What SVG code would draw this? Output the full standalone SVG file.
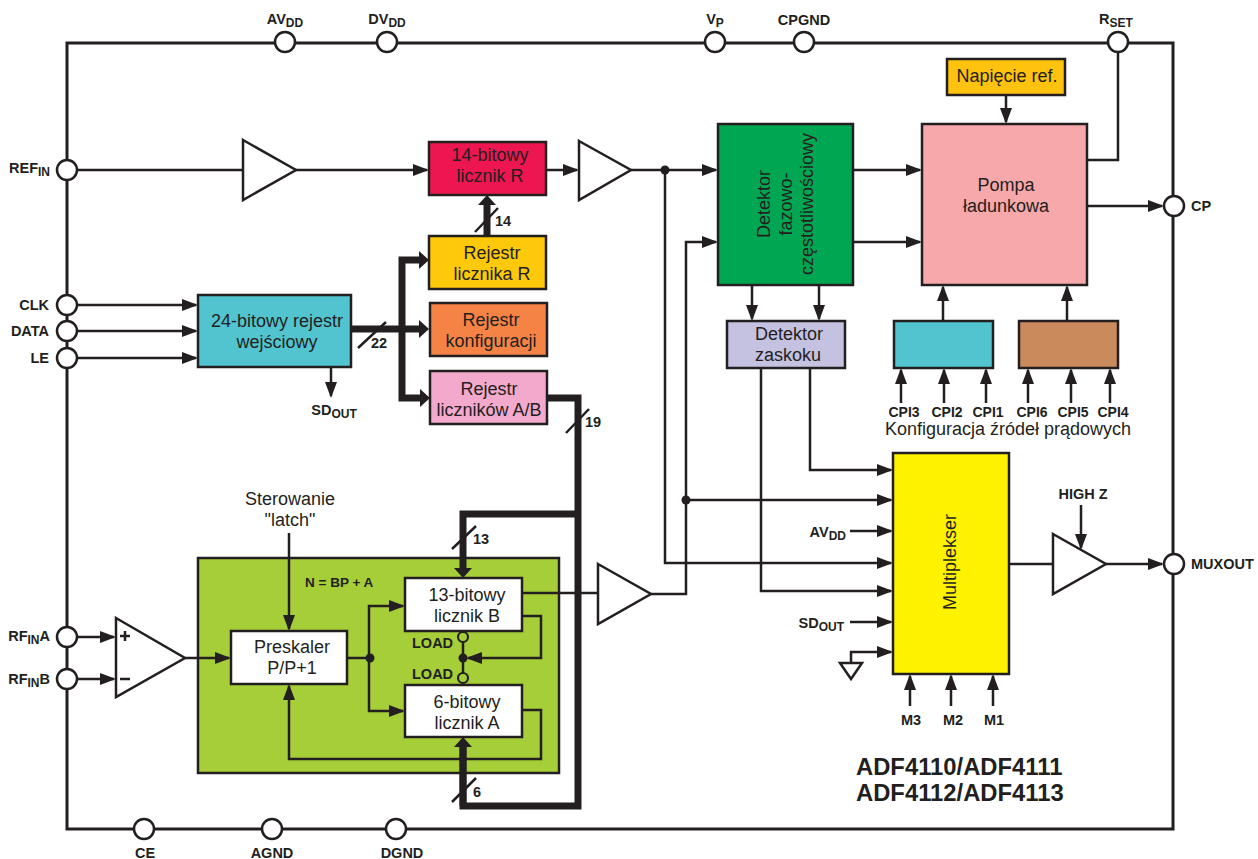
<svg xmlns="http://www.w3.org/2000/svg" width="1258" height="859" viewBox="0 0 1258 859">
<style>
text{font-family:"Liberation Sans",Arial,sans-serif;fill:#231f20}
.t{font-size:18px;text-anchor:middle}
.b{font-size:14.5px;font-weight:700}
.m{text-anchor:middle}
.e{text-anchor:end}
.s{font-size:12px}
.c{font-size:14px}
.box{stroke:#231f20;stroke-width:2.5}
.w{fill:none;stroke:#231f20;stroke-width:2.5}
.a{marker-end:url(#ah)}
.k{fill:none;stroke:#231f20;stroke-width:7}
.ka{marker-end:url(#kh)}
.pin{fill:#fff;stroke:#231f20;stroke-width:2.5}
.tri{fill:#fff;stroke:#231f20;stroke-width:2.5}
.d{fill:#231f20}
</style>
<defs>
<marker id="ah" markerUnits="userSpaceOnUse" markerWidth="18" markerHeight="14" refX="14" refY="6" orient="auto"><path d="M0 0L16 6L0 12z" fill="#231f20"/></marker>
<marker id="kh" markerUnits="userSpaceOnUse" markerWidth="12" markerHeight="20" refX="5" refY="9" orient="auto"><path d="M0 0L10 9L0 18z" fill="#231f20"/></marker>
</defs>
<rect width="1258" height="859" fill="#fff"/>
<g id="panel-n"><rect class="box" x="198" y="558" width="361" height="215" fill="#a6ce39"/></g>
<g id="connectors">
<rect x="67" y="43" width="1106" height="786" class="w" style="stroke-width:3"/>
<path class="w a" d="M77 170H427"/>
<path class="w a" d="M546 170H577"/>
<path class="w a" d="M631 170H716"/>
<path class="w a" d="M665 170V563H891"/>
<path class="w a" d="M651 594H686V242H716"/>
<path class="w a" d="M686 500H891"/>
<path class="w a" d="M853 170H920"/>
<path class="w a" d="M853 242H920"/>
<path class="w a" d="M752 285V319"/>
<path class="w a" d="M819 285V319"/>
<path class="w a" d="M1006 95V122"/>
<path class="w" d="M1087 160H1118V52"/>
<path class="w a" d="M1087 206H1162"/>
<path class="w a" d="M943 321V287"/>
<path class="w a" d="M1067 321V287"/>
<path class="w a" d="M901 403V370"/>
<path class="w a" d="M944 403V370"/>
<path class="w a" d="M986 403V370"/>
<path class="w a" d="M1028 403V370"/>
<path class="w a" d="M1071 403V370"/>
<path class="w a" d="M1110 403V370"/>
<path class="w a" d="M761 368V591H891"/>
<path class="w a" d="M810 368V470H891"/>
<path class="w a" d="M850 531H891"/>
<path class="w a" d="M850 622H891"/>
<path class="w a" d="M851 663V652H891"/>
<path class="w a" d="M910 706V676"/>
<path class="w a" d="M951 706V676"/>
<path class="w a" d="M993 706V676"/>
<path class="w" d="M1009 564H1053"/>
<path class="w a" d="M1106 564H1162"/>
<path class="w a" d="M1081 505V548"/>
<path class="w a" d="M77 305H196"/>
<path class="w a" d="M77 331H196"/>
<path class="w a" d="M77 358H196"/>
<path class="w a" d="M331 367V396"/>
<path class="w a" d="M77 637H114"/>
<path class="w a" d="M77 679H114"/>
<path class="w a" d="M185 658H229"/>
<path class="w a" d="M289 533V629"/>
<path class="w a" d="M347 658H369V606H403"/>
<path class="w a" d="M369 658V711H403"/>
<path class="w" d="M522 593H598"/>
<path class="w a" d="M522 616H541V658H468"/>
<path class="w a" d="M522 710H541V759H289V686"/>
<path class="w" d="M463 642V673"/>
<path class="k ka" d="M351 329H424"/>
<path class="k ka" d="M402 329V260H424"/>
<path class="k ka" d="M402 329V398H425"/>
<path class="k ka" d="M487 236V200"/>
<path class="k" d="M547 398H578V806H463V742"/>
<path class="k ka" d="M463 806V742"/>
<path class="k ka" d="M578 514H463V573"/>
<path class="w" d="M475 232L498 208M358 348L386 322M566 433L589 409M452 549L476 526M452 802L476 778"/>
<circle class="d" cx="665" cy="170" r="4.5"/>
<circle class="d" cx="686" cy="500" r="4.5"/>
<circle class="d" cx="370" cy="658" r="4.5"/>
<circle class="d" cx="463" cy="658" r="4.5"/>
<circle cx="463" cy="637" r="5" fill="#a6ce39" stroke="#231f20" stroke-width="2.2"/>
<circle cx="463" cy="678" r="5" fill="#a6ce39" stroke="#231f20" stroke-width="2.2"/>
<path d="M840 663H862L851 679z" fill="#fff" stroke="#231f20" stroke-width="2.5"/>
</g>
<g id="buf-ref"><path class="tri" d="M243 140L296 170L243 200z"/></g>
<g id="buf-r"><path class="tri" d="M579 141L631 170L579 200z"/></g>
<g id="buf-b"><path class="tri" d="M598 564L651 594L598 624z"/></g>
<g id="buf-mux"><path class="tri" d="M1053 534L1106 564L1053 594z"/></g>
<g id="comp-rf"><path class="tri" d="M116 618L185 658L116 697z"/>
<path d="M120 636H130M125 631V641M120 679H130" stroke="#231f20" stroke-width="2.5" fill="none"/></g>
<g id="r-counter"><rect class="box" x="429" y="142" width="117" height="53" fill="#ed1651"/><text class="t" x="490" y="161">14-bitowy</text><text class="t" x="490" y="182">licznik R</text></g>
<g id="reg-r"><rect class="box" x="429" y="236" width="117" height="53" fill="#ffc90b"/><text class="t" x="492" y="259">Rejestr</text><text class="t" x="492" y="280">licznika R</text></g>
<g id="reg-conf"><rect class="box" x="430" y="303" width="117" height="53" fill="#f58345"/><text class="t" x="491" y="326">Rejestr</text><text class="t" x="491" y="347">konfiguracji</text></g>
<g id="reg-ab"><rect class="box" x="430" y="371" width="117" height="53" fill="#f3a9cc"/><text class="t" x="489" y="395">Rejestr</text><text class="t" x="489" y="416">liczników A/B</text></g>
<g id="input-reg"><rect class="box" x="198" y="295" width="153" height="72" fill="#52c4cf"/><text class="t" x="277" y="327">24-bitowy rejestr</text><text class="t" x="277" y="348">wejściowy</text></g>
<g id="pfd"><rect class="box" x="718" y="124" width="135" height="161" fill="#00a651"/>
<text class="t" transform="translate(770 204) rotate(-90)">Detektor</text><text class="t" transform="translate(792 204) rotate(-90)">fazowo-</text><text class="t" transform="translate(813 204) rotate(-90)">częstotliwościowy</text></g>
<g id="pump"><rect class="box" x="922" y="124" width="165" height="161" fill="#f6a8ab"/><text class="t" x="1006" y="191">Pompa</text><text class="t" x="1006" y="212">ładunkowa</text></g>
<g id="vref"><rect class="box" x="947" y="59" width="118" height="36" fill="#ffc20e"/><text class="t" x="1007" y="82">Napięcie ref.</text></g>
<g id="lock"><rect class="box" x="727" y="321" width="118" height="47" fill="#c5c1e0"/><text class="t" x="789" y="340">Detektor</text><text class="t" x="788" y="361">zaskoku</text></g>
<g id="cpi-a"><rect class="box" x="894" y="321" width="99" height="47" fill="#52c4cf"/></g>
<g id="cpi-b"><rect class="box" x="1019" y="321" width="99" height="47" fill="#cb8a5b"/></g>
<g id="mux"><rect class="box" x="893" y="453" width="116" height="221" fill="#fff200"/><text class="t" transform="translate(956 562) rotate(-90)">Multiplekser</text></g>
<g id="prescaler"><rect class="box" x="231" y="631" width="116" height="53" fill="#fff"/><text class="t" x="292" y="653">Preskaler</text><text class="t" x="292" y="674">P/P+1</text></g>
<g id="cnt-b"><rect class="box" x="405" y="578" width="117" height="53" fill="#fff"/><text class="t" x="467" y="601">13-bitowy</text><text class="t" x="467" y="622">licznik B</text></g>
<g id="cnt-a"><rect class="box" x="405" y="685" width="117" height="52" fill="#fff"/><text class="t" x="467" y="708">6-bitowy</text><text class="t" x="467" y="729">licznik A</text></g>
<g id="pins">
<circle class="pin" cx="285" cy="42" r="10"/><circle class="pin" cx="387" cy="42" r="10"/><circle class="pin" cx="715" cy="42" r="10"/><circle class="pin" cx="804" cy="42" r="10"/><circle class="pin" cx="1118" cy="42" r="10"/>
<circle class="pin" cx="67" cy="170" r="10"/><circle class="pin" cx="67" cy="305" r="10"/><circle class="pin" cx="67" cy="331" r="10"/><circle class="pin" cx="67" cy="358" r="10"/><circle class="pin" cx="67" cy="637" r="10"/><circle class="pin" cx="67" cy="679" r="10"/>
<circle class="pin" cx="1174" cy="206" r="10"/><circle class="pin" cx="1174" cy="564" r="10"/>
<circle class="pin" cx="144" cy="829" r="10"/><circle class="pin" cx="272" cy="829" r="10"/><circle class="pin" cx="396" cy="829" r="10"/>
</g>
<g id="labels">
<text class="b m" x="285" y="24">AV<tspan class="s" dy="3">DD</tspan></text>
<text class="b m" x="387" y="24">DV<tspan class="s" dy="3">DD</tspan></text>
<text class="b m" x="715" y="24">V<tspan class="s" dy="3">P</tspan></text>
<text class="b m" x="804" y="25">CPGND</text>
<text class="b m" x="1116" y="24">R<tspan class="s" dy="3">SET</tspan></text>
<text class="b e" x="50" y="173">REF<tspan class="s" dy="3">IN</tspan></text>
<text class="b e" x="49" y="310">CLK</text>
<text class="b e" x="49" y="336">DATA</text>
<text class="b e" x="49" y="363">LE</text>
<text class="b e" x="50" y="641">RF<tspan class="s" dy="3">IN</tspan><tspan dy="-3">A</tspan></text>
<text class="b e" x="50" y="684">RF<tspan class="s" dy="3">IN</tspan><tspan dy="-3">B</tspan></text>
<text class="b" x="1191" y="211">CP</text>
<text class="b" x="1191" y="569">MUXOUT</text>
<text class="b m" x="145" y="858">CE</text>
<text class="b m" x="272" y="858">AGND</text>
<text class="b m" x="402" y="858">DGND</text>
<text class="b m" x="334" y="415">SD<tspan class="s" dy="3">OUT</tspan></text>
<text class="b" x="495" y="226">14</text>
<text class="b" x="371" y="348">22</text>
<text class="b" x="585" y="427">19</text>
<text class="b" x="473" y="544">13</text>
<text class="b" x="473" y="797">6</text>
<text class="t" x="290" y="505">Sterowanie</text>
<text class="t" x="290" y="526">"latch"</text>
<text class="b" x="305" y="587" style="font-size:13.5px">N = BP + A</text>
<text class="b" x="412" y="648">LOAD</text>
<text class="b" x="412" y="679">LOAD</text>
<text class="b m c" x="904" y="417">CPI3</text>
<text class="b m c" x="947" y="417">CPI2</text>
<text class="b m c" x="988" y="417">CPI1</text>
<text class="b m c" x="1032" y="417">CPI6</text>
<text class="b m c" x="1073" y="417">CPI5</text>
<text class="b m c" x="1113" y="417">CPI4</text>
<text class="t" x="1008" y="435">Konfiguracja źródeł prądowych</text>
<text class="b m" x="1083" y="499">HIGH Z</text>
<text class="b e" x="846" y="537">AV<tspan class="s" dy="3">DD</tspan></text>
<text class="b e" x="844" y="628">SD<tspan class="s" dy="3">OUT</tspan></text>
<text class="b m" x="911" y="725">M3</text>
<text class="b m" x="953" y="725">M2</text>
<text class="b m" x="994" y="725">M1</text>
<text x="856" y="775" style="font-size:23.8px;font-weight:700">ADF4110/ADF4111</text>
<text x="856" y="801" style="font-size:23.8px;font-weight:700">ADF4112/ADF4113</text>
</g>
</svg>
